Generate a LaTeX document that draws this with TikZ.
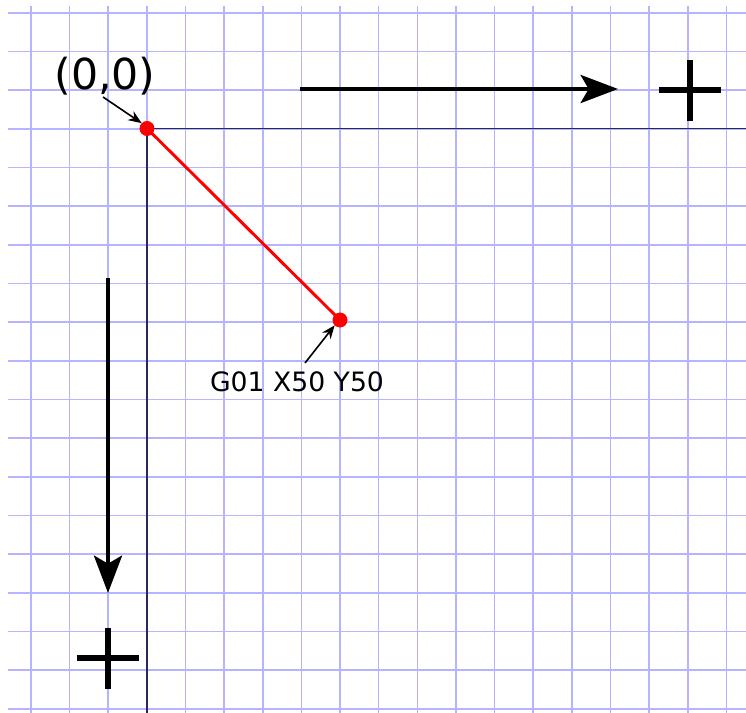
\documentclass[tikz,border=0pt]{standalone}
\usepackage{fontspec}
\setmainfont{DejaVu Sans}
\usetikzlibrary{arrows.meta}
\definecolor{gridblue}{RGB}{180,180,255}
\definecolor{axisnavy}{RGB}{40,40,90}
\tikzset{
  gridline/.style={draw=gridblue, line width=1.2pt},
  axisline/.style={draw=axisnavy, line width=1pt},
  bigarrow/.style={draw=black, line width=3.3pt, -{Stealth[length=28pt,width=21pt,inset=6pt]}},
  plusbar/.style={draw=black, line width=4.5pt},
  pointer/.style={draw=black, line width=1.2pt, -{Stealth[length=10pt,width=8pt]}},
  dot/.style={circle, fill=red, inner sep=0pt, minimum size=11pt},
  path/.style={draw=red, line width=2.2pt}
}
\begin{document}
\begin{tikzpicture}[x=0.75pt,y=-0.75pt]
\useasboundingbox (0,0) rectangle (746,713);
\fill[white] (0,0) rectangle (746,713);
% grid
\foreach \k in {0,...,18}{
  \draw[gridline] ({30.8+38.65*\k},6) -- ({30.8+38.65*\k},713);
  \draw[gridline] (8,{13+38.65*\k}) -- (746,{13+38.65*\k});
}
% axes
\coordinate (xend) at (746,128.5);
\coordinate (yend) at (147,713);
\node[dot] (origin) at (147,128.5) {};
\draw[axisline] (origin.center) -- (xend);
\draw[axisline] (origin.center) -- (yend);
% target point
\node[dot] (target) at (340,320) {};
\draw[path] (origin.center) -- (target.center);
\node[dot] at (origin) {};
\node[dot] at (target) {};
% labels
\node[font=\fontsize{32}{36}\selectfont, inner sep=0pt] (olabel) at (105,76) {(0,0)};
\node[font=\fontsize{20}{24}\selectfont, inner sep=0pt] (tlabel) at (297,382) {G01 X50 Y50};
\coordinate (op) at (103,97);
\coordinate (tp) at (305,363);
\draw[pointer] (op) -- (origin.north west);
\draw[pointer] (tp) -- (target.south west);
% direction arrows
\coordinate (xa1) at (300,89);
\coordinate (xa2) at (618,89);
\draw[bigarrow] (xa1) -- (xa2);
\coordinate (ya1) at (108,278);
\coordinate (ya2) at (108,593);
\draw[bigarrow] (ya1) -- (ya2);
% plus signs
\coordinate (px) at (690,90);
\coordinate (py) at (108,658);
\draw[plusbar] ([xshift=-23.5pt]px) -- ([xshift=23.5pt]px);
\draw[plusbar] ([yshift=22.5pt]px) -- ([yshift=-23.5pt]px);
\draw[plusbar] ([xshift=-23.5pt]py) -- ([xshift=23.5pt]py);
\draw[plusbar] ([yshift=22.5pt]py) -- ([yshift=-23pt]py);
\end{tikzpicture}
\end{document}
